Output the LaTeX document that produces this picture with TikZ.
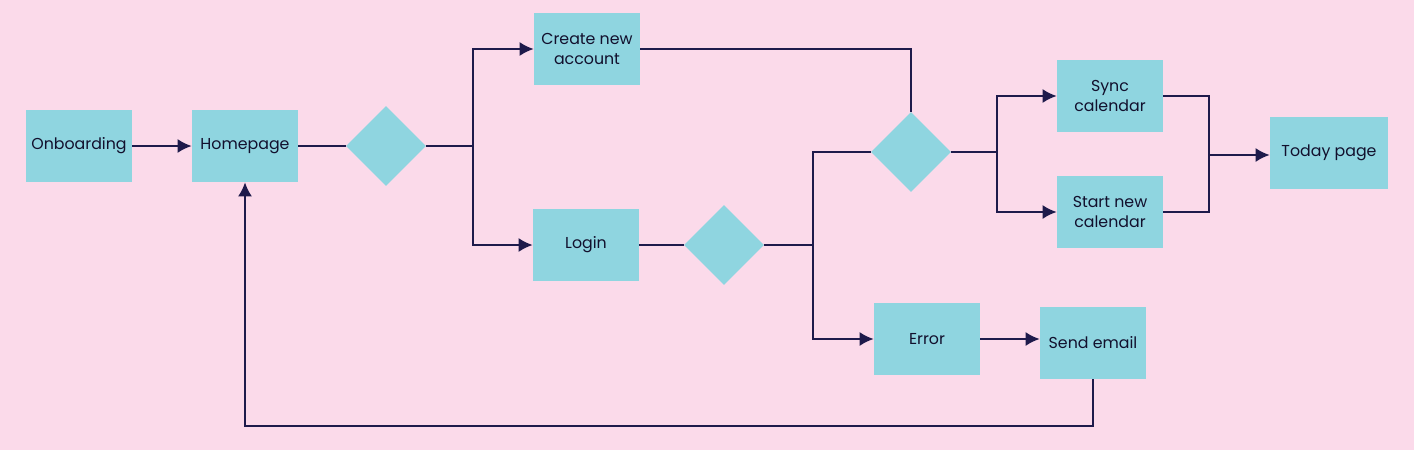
\documentclass[tikz,border=0pt]{standalone}
\usepackage{fontspec}
\setmainfont{Poppins}
\usetikzlibrary{shapes.geometric, arrows.meta}
\definecolor{pagebg}{HTML}{FBDAEA}
\definecolor{boxfill}{HTML}{8FD5E0}
\definecolor{linecol}{HTML}{1E1A4B}
\tikzset{
  stepbox/.style={fill=boxfill, minimum width=2.12cm, minimum height=1.44cm,
    align=center, font=\fontsize{9}{11}\selectfont, text=linecol!60!black, inner sep=1pt},
  choice/.style={diamond, fill=boxfill, minimum width=1.6cm, minimum height=1.6cm, inner sep=0pt},
  link/.style={draw=linecol, line width=1.1pt},
}
\begin{document}
\begin{tikzpicture}[>={Latex[length=2.8mm,width=2.8mm]}, x=0.02cm, y=-0.02cm]
\fill[pagebg] (0,0) rectangle (1414,450);
\useasboundingbox (0,0) rectangle (1414,450);
\node[stepbox] (onb) at (79,146) {Onboarding};
\node[stepbox] (home) at (245,146) {Homepage};
\node[choice] (d1) at (386,146) {};
\node[stepbox] (acct) at (587,49) {Create new\\account};
\node[stepbox] (login) at (586,245) {Login};
\node[choice] (d2) at (724,245) {};
\node[choice] (d3) at (911,152) {};
\node[stepbox] (sync) at (1110,96) {Sync\\calendar};
\node[stepbox] (start) at (1110,212) {Start new\\calendar};
\node[stepbox, minimum width=2.36cm] (today) at (1329,153) {Today page};
\node[stepbox] (err) at (927,339) {Error};
\node[stepbox] (mail) at (1093,343) {Send email};
\coordinate (j1) at (473,146);
\coordinate (j2) at (813,245);
\coordinate (j3) at (997,152);
\coordinate (j4) at (1209,155);
\draw [link, ->] (onb)--(home);
\draw [link] (home)--(d1);
\draw [link] (d1)--(j1);
\draw [link, ->] (j1)|-(acct.west);
\draw [link, ->] (j1)|-(login.west);
\draw [link] (acct.east)-|(d3.north);
\draw [link] (login)--(d2);
\draw [link] (d2)--(j2);
\draw [link] (j2)|-(d3.west);
\draw [link, ->] (j2)|-(err.west);
\draw [link] (d3.east)--(j3);
\draw [link, ->] (j3)|-(sync.west);
\draw [link, ->] (j3)|-(start.west);
\draw [link] (sync.east)-|(j4);
\draw [link] (start.east)-|(j4);
\draw [link, ->] (j4)--(today.west |- j4);
\draw [link, ->] (err.east)--(err.east -| mail.west);
\draw [link, ->] (mail.south)--++(0,47)-|(home.south);
\end{tikzpicture}
\end{document}
